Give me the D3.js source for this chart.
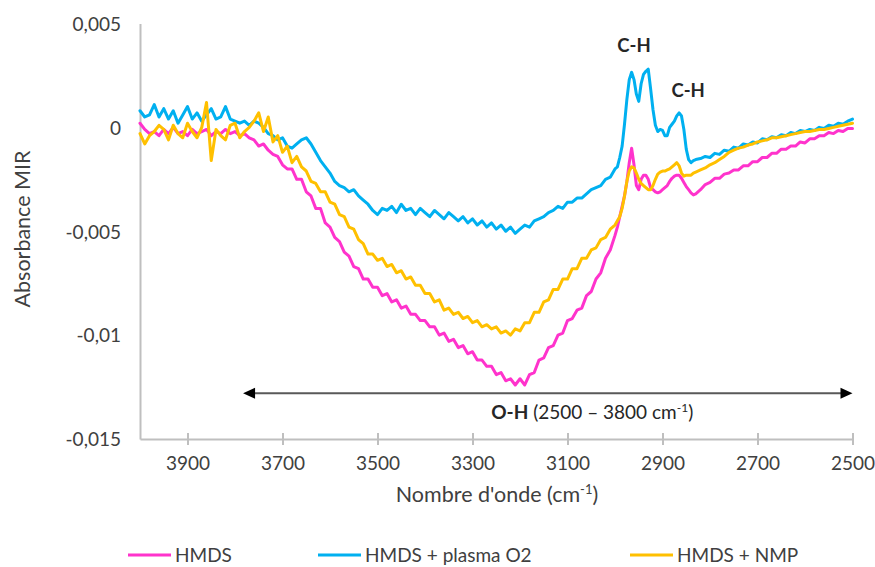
<!DOCTYPE html>
<html>
<head>
<meta charset="utf-8">
<script src="https://cdn.jsdelivr.net/npm/d3@7"></script>
<style>
  html, body { margin: 0; padding: 0; background: #ffffff; }
  svg { display: block; font-family: Lato, "Open Sans", sans-serif; }
</style>
</head>
<body>
<svg id="chart" width="875" height="567"></svg>
<script>
// ---------------- DATA ----------------
// wavenumber sampling grid (cm-1)
const wavenumbers = [
  ...d3.range(4000, 3000, -10),
  ...d3.range(3000, 2825, -5),
  ...d3.range(2820, 2499, -10)
];
// absorbance values, in units of 1e-3
const hmds = [
  0.2,-0.1,-0.3,-0.2,-0.4,-0.1,-0.3,0.0,-0.3,-0.2,-0.4,-0.1,-0.3,-0.2,-0.1,-0.4,-0.2,-0.3,-0.1,-0.3,-0.2,-0.4,-0.3,-0.5,-0.6,-0.9,
  -0.8,-1.1,-1.3,-1.4,-1.8,-2.0,-2.0,-2.5,-2.5,-3.1,-3.3,-3.9,-3.9,-4.6,-4.8,-5.3,-5.5,-6.0,-6.2,-6.7,-6.8,-7.3,-7.3,-7.7,
  -7.7,-8.1,-8.0,-8.4,-8.3,-8.7,-8.6,-9.0,-9.0,-9.3,-9.3,-9.6,-9.6,-10.0,-9.9,-10.3,-10.2,-10.6,-10.5,-10.9,-10.8,-11.2,-11.2,-11.5,-11.5,
  -11.9,-11.8,-12.2,-12.1,-12.4,-12.1,-12.4,-11.9,-11.8,-11.2,-11.1,-10.6,-10.5,-10.0,-9.9,-9.3,-9.2,-8.8,-8.7,-8.1,-7.9,-7.3,-7.0,-6.3,-5.9,
  -5.2,-4.8,-4.3,-3.8,-3.3,-2.6,-1.7,-1.0,-1.8,-2.8,-3.0,-2.5,-2.3,-2.3,-2.5,-2.9,-3.0,-3.1,-3.15,-3.1,-3.0,-2.9,-2.8,-2.6,-2.45,-2.35,-2.3,-2.3,-2.45,-2.65,-2.85,-3.0,-3.15,-3.25,-3.2,
  -3.0,-2.75,-2.65,-2.45,-2.45,-2.25,-2.2,-2.05,-2.05,-1.85,-1.85,-1.65,-1.65,-1.45,-1.45,-1.25,-1.25,-1.05,-1.05,-0.9,-0.9,-0.7,-0.75,-0.55,-0.55,-0.4,-0.4,-0.25,-0.3,-0.15,-0.2,-0.05,-0.05
];
const hmdsPlasmaO2 = [
  0.8,0.5,0.6,1.1,0.5,0.9,0.4,0.8,0.2,0.6,1.0,0.4,0.7,0.3,0.6,0.9,0.4,0.5,1.0,0.4,0.3,0.2,0.3,0.1,0.3,0.2,
  0.0,-0.3,-0.4,-0.6,-0.5,-0.9,-1.0,-0.8,-0.6,-0.5,-0.8,-1.2,-1.6,-1.9,-2.2,-2.6,-2.8,-2.9,-3.1,-3.0,-3.3,-3.5,-3.7,-4.0,
  -4.2,-3.9,-4.0,-3.8,-4.1,-3.7,-4.0,-3.9,-4.2,-3.9,-4.1,-4.3,-4.0,-4.2,-4.4,-4.1,-4.3,-4.5,-4.3,-4.6,-4.4,-4.7,-4.5,-4.8,-4.6,
  -4.9,-4.7,-5.0,-4.8,-5.1,-4.9,-4.7,-4.8,-4.5,-4.4,-4.3,-4.1,-4.0,-3.8,-3.9,-3.6,-3.6,-3.4,-3.4,-3.2,-3.0,-2.9,-2.8,-2.5,-2.4,
  -2.0,-1.9,-1.45,-0.9,0.15,1.35,2.3,2.65,2.3,1.6,1.25,2.1,2.55,2.7,2.8,1.85,0.85,0.1,-0.2,-0.1,-0.15,-0.4,-0.4,0.0,0.15,0.3,0.55,0.7,0.55,-0.1,-1.05,-1.55,-1.7,-1.6,-1.55,
  -1.5,-1.4,-1.45,-1.25,-1.3,-1.1,-1.15,-0.95,-1.0,-0.8,-0.85,-0.7,-0.75,-0.55,-0.6,-0.45,-0.5,-0.35,-0.4,-0.25,-0.3,-0.15,-0.2,-0.1,-0.15,0.0,-0.05,0.1,0.05,0.2,0.15,0.3,0.4
];
const hmdsNmp = [
  -0.3,-0.8,-0.4,-0.2,0.1,-0.1,-0.6,0.1,-0.3,-0.5,0.2,-0.2,-0.5,0.0,1.2,-1.6,-0.1,-0.4,-0.6,0.1,0.2,-0.5,-0.2,0.0,0.3,0.7,
  -0.2,0.5,-0.7,-0.4,-1.2,-0.9,-1.7,-1.4,-1.9,-2.1,-2.6,-2.7,-3.1,-3.1,-3.6,-3.7,-4.2,-4.3,-4.8,-4.9,-5.4,-5.6,-6.1,-6.1,
  -6.4,-6.3,-6.7,-6.6,-7.0,-6.9,-7.3,-7.2,-7.6,-7.6,-8.0,-8.0,-8.4,-8.3,-8.8,-8.7,-9.0,-8.9,-9.2,-9.1,-9.4,-9.3,-9.6,-9.5,-9.7,
  -9.6,-9.9,-9.8,-10.0,-9.7,-9.8,-9.4,-9.4,-8.9,-8.9,-8.4,-8.3,-7.8,-7.8,-7.3,-7.3,-6.8,-6.8,-6.3,-6.3,-5.9,-5.8,-5.4,-5.3,-4.9,
  -4.7,-4.5,-4.3,-3.9,-3.3,-2.6,-2.1,-1.9,-1.95,-2.2,-2.5,-2.7,-2.8,-2.9,-3.0,-3.0,-2.8,-2.5,-2.25,-2.15,-2.1,-2.1,-2.05,-2.0,-1.9,-1.8,-1.7,-1.85,-2.2,-2.35,-2.3,-2.3,-2.3,-2.2,-2.15,
  -2.05,-1.95,-1.8,-1.7,-1.55,-1.4,-1.2,-1.1,-1.0,-0.95,-0.85,-0.8,-0.7,-0.65,-0.6,-0.5,-0.5,-0.45,-0.4,-0.35,-0.3,-0.25,-0.2,-0.2,-0.15,-0.1,-0.1,-0.05,0.0,0.05,0.1,0.15,0.2
];
const seriesNames = ["HMDS", "HMDS + plasma O2", "HMDS + NMP"];
const seriesColors = ["#FF33CC", "#00B0F0", "#FFC000"];
const xTickValues = [3900, 3700, 3500, 3300, 3100, 2900, 2700, 2500];
const yTickValues = [0.005, 0, -0.005, -0.01, -0.015];
const yTickLabels = ["0,005", "0", "-0,005", "-0,01", "-0,015"];

// ---------------- CHART ----------------
const svg = d3.select("#chart");
const textColor = "#404040";
const axisColor = "#BFBFBF";
const FONT = "Lato, 'Open Sans', sans-serif";

const x = d3.scaleLinear().domain([4000, 2500]).range([140, 852.5]);
const y = d3.scaleLinear().domain([-0.015, 0.005]).range([439, 23.5]);

// Y axis
const yAxis = svg.append("g").attr("transform", `translate(${x(4000)},0)`)
  .call(d3.axisLeft(y).tickValues(yTickValues).tickSize(0).tickPadding(19)
    .tickFormat((d, i) => yTickLabels[i]));
yAxis.select(".domain").attr("stroke", axisColor).attr("stroke-width", 2);
yAxis.selectAll("text").attr("fill", textColor).style("font-size", "19px")
  .style("font-family", FONT).attr("dy", "0.36em");

// X axis
const xAxis = svg.append("g").attr("transform", `translate(0,${y(-0.015)})`)
  .call(d3.axisBottom(x).tickValues(xTickValues).tickSizeInner(6).tickSizeOuter(0)
    .tickFormat(d3.format("d")));
xAxis.select(".domain").attr("stroke", axisColor).attr("stroke-width", 2);
xAxis.selectAll(".tick line").attr("stroke", axisColor).attr("stroke-width", 2)
  .attr("y1", -6).attr("y2", 6);
xAxis.selectAll("text").attr("fill", textColor).style("font-size", "19px")
  .style("font-family", FONT).attr("y", 31).attr("dy", 0);

// Series lines
const allSeries = [hmds, hmdsPlasmaO2, hmdsNmp];
const line = d3.line()
  .x((d, i) => x(wavenumbers[i]))
  .y(d => y(d * 1e-3));
allSeries.forEach((s, k) => {
  svg.append("path")
    .datum(s)
    .attr("fill", "none")
    .attr("stroke", seriesColors[k])
    .attr("stroke-width", 3)
    .attr("stroke-linejoin", "round")
    .attr("stroke-linecap", "round")
    .attr("d", line);
});

// Arrow annotation (O-H band)
const arrowFrom = 3783, arrowTo = 2500, arrowY = -0.0128;
const ay = y(arrowY);
svg.append("line")
  .attr("x1", x(arrowFrom) + 10).attr("x2", x(arrowTo) - 10)
  .attr("y1", ay).attr("y2", ay)
  .attr("stroke", "#595959").attr("stroke-width", 2);
svg.append("path")
  .attr("d", `M${x(arrowFrom)},${ay} L${x(arrowFrom) + 12},${ay - 5.5} L${x(arrowFrom) + 12},${ay + 5.5} Z`)
  .attr("fill", "#000");
svg.append("path")
  .attr("d", `M${x(arrowTo)},${ay} L${x(arrowTo) - 12},${ay - 5.5} L${x(arrowTo) - 12},${ay + 5.5} Z`)
  .attr("fill", "#000");

const oh = svg.append("text")
  .attr("x", x(3048)).attr("y", 419)
  .attr("text-anchor", "middle")
  .attr("fill", "#262626")
  .style("font-size", "19px");
oh.append("tspan").attr("font-weight", "bold").text("O-H");
oh.append("tspan").text(" (2500 \u2013 3800 cm");
oh.append("tspan").attr("dy", -7).style("font-size", "12px").text("-1");
oh.append("tspan").attr("dy", 7).text(")");

// C-H labels
[[2960, 3.62], [2846, 1.45]].forEach(([wn, v]) => {
  svg.append("text")
    .attr("x", x(wn)).attr("y", y(v * 1e-3))
    .attr("text-anchor", "middle")
    .attr("font-weight", "bold")
    .attr("fill", "#262626")
    .style("font-size", "18.5px")
    .text("C-H");
});

// Axis titles
const xt = svg.append("text")
  .attr("x", 497).attr("y", 502)
  .attr("text-anchor", "middle")
  .attr("fill", textColor)
  .style("font-size", "21.5px");
xt.append("tspan").text("Nombre d'onde (cm");
xt.append("tspan").attr("dy", -8).style("font-size", "13px").text("-1");
xt.append("tspan").attr("dy", 8).text(")");

svg.append("text")
  .attr("transform", "translate(30,229) rotate(-90)")
  .attr("text-anchor", "middle")
  .attr("fill", textColor)
  .style("font-size", "21.5px")
  .text("Absorbance MIR");

// Legend
const legendX = [128, 318, 630];
seriesNames.forEach((name, k) => {
  const g = svg.append("g").attr("transform", `translate(${legendX[k]},555)`);
  g.append("line").attr("x1", 0).attr("x2", 43).attr("y1", 0).attr("y2", 0)
    .attr("stroke", seriesColors[k]).attr("stroke-width", 3);
  g.append("text").attr("x", 47).attr("y", 7)
    .attr("fill", textColor).style("font-size", "19px").text(name);
});
</script>
</body>
</html>
